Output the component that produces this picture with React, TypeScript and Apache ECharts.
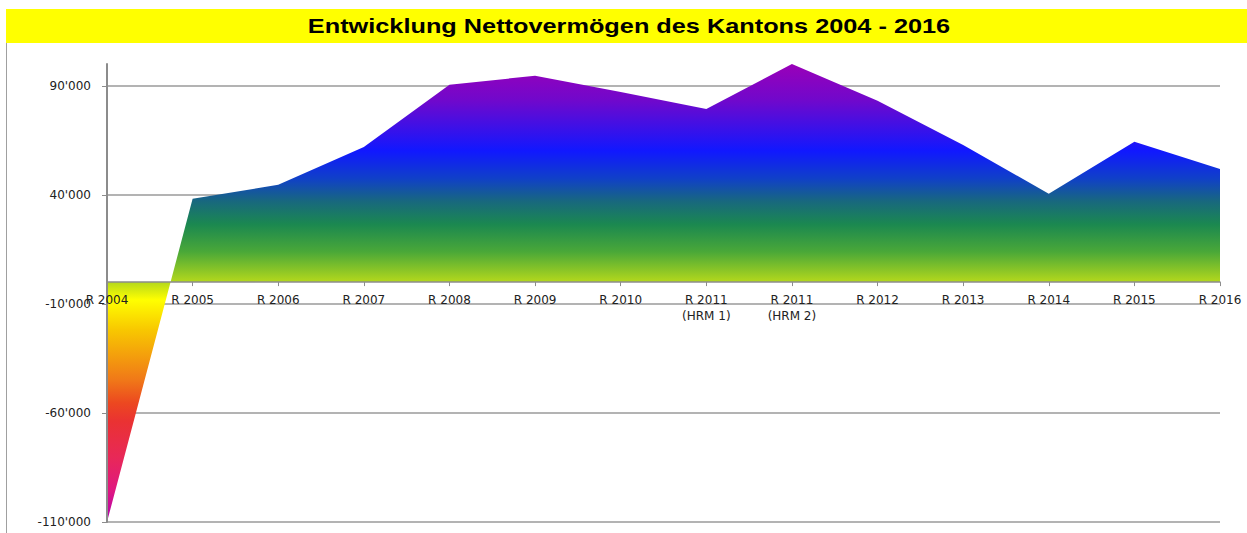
import React, { useEffect, useRef } from "react";
import * as echarts from "echarts";

const TITLE = "Entwicklung Nettovermögen des Kantons 2004 - 2016";
const categories = [
  "R 2004", "R 2005", "R 2006", "R 2007", "R 2008", "R 2009", "R 2010",
  "R 2011\n(HRM 1)", "R 2011\n(HRM 2)", "R 2012", "R 2013", "R 2014", "R 2015", "R 2016",
];
const nettovermoegen = [
  -110000, 38200, 44600, 62000, 90500, 94600, 87200,
  79400, 100000, 83100, 62900, 40500, 64300, 51900,
];
const yTicks = [-110000, -60000, -10000, 40000, 90000];
const Y_MIN = -110000;
const Y_MAX = 100000;

const fmt = (v: number) => {
  const s = Math.abs(Math.round(v)).toString().replace(/\B(?=(\d{3})+(?!\d))/g, "'");
  return (v < 0 ? "-" : "") + s;
};

export default function App() {
  const ref = useRef<HTMLDivElement>(null);
  useEffect(() => {
    if (!ref.current) return;
    const chart = echarts.init(ref.current, null, { renderer: "svg" });
    const gridTop = 64;
    const gridBottom = 11;
    const plotH = 533 - gridTop - gridBottom;
    const zeroOffset = -plotH * (0 - Y_MIN) / (Y_MAX - Y_MIN);
    const gradient = new echarts.graphic.LinearGradient(0, 0, 0, 1, [
      { offset: 0, color: "#9a00b8" },
      { offset: 0.08, color: "#7008cc" },
      { offset: 0.19, color: "#1018ff" },
      { offset: 0.25, color: "#1040c8" },
      { offset: 0.3, color: "#18687e" },
      { offset: 0.35, color: "#1b8850" },
      { offset: 0.41, color: "#4aa838" },
      { offset: 0.476, color: "#b4d81c" },
      { offset: 0.515, color: "#ffff00" },
      { offset: 0.58, color: "#f8c800" },
      { offset: 0.69, color: "#f07818" },
      { offset: 0.74, color: "#ec4820" },
      { offset: 0.78, color: "#ea3232" },
      { offset: 0.86, color: "#e82858" },
      { offset: 0.93, color: "#e01880" },
      { offset: 1, color: "#b000b0" },
    ]);
    chart.setOption({
      animation: false,
      backgroundColor: "#ffffff",
      textStyle: { fontFamily: "DejaVu Sans" },
      grid: {
        left: 107, right: 27, top: gridTop, bottom: gridBottom,
        containLabel: false, outerBoundsMode: "none",
      },
      graphic: [
        { type: "rect", shape: { x: 6, y: 9, width: 1241, height: 34 }, style: { fill: "#ffff00" }, silent: true },
        { type: "line", shape: { x1: 6.5, y1: 43, x2: 6.5, y2: 533 }, style: { stroke: "#a0a0a0", lineWidth: 1 }, silent: true },
        {
          type: "text",
          x: 629,
          y: 26,
          scaleX: 1.265,
          style: {
            text: TITLE,
            font: "bold 20px 'Liberation Sans', Arial, sans-serif",
            fill: "#000000",
            align: "center",
            verticalAlign: "middle",
          },
          silent: true,
        },
      ],
      xAxis: {
        type: "category",
        data: categories,
        boundaryGap: false,
        position: "bottom",
        offset: zeroOffset,
        z: 10,
        axisLine: { onZero: false, lineStyle: { color: "#8c8c8c", width: 1.5 } },
        axisTick: { show: true, length: 4, inside: false, lineStyle: { color: "#8c8c8c" } },
        axisLabel: {
          interval: 0,
          margin: 10,
          color: "#222222",
          fontSize: 12,
          lineHeight: 16,
          fontFamily: "DejaVu Sans",
        },
        splitLine: { show: false },
      },
      yAxis: {
        type: "value",
        min: Y_MIN,
        max: Y_MAX,
        interval: 50000,
        z: 10,
        axisLine: { show: true, lineStyle: { color: "#8c8c8c", width: 2 } },
        axisTick: { show: true, length: 5, customValues: yTicks, lineStyle: { color: "#8c8c8c" } },
        axisLabel: {
          customValues: yTicks,
          margin: 16,
          color: "#222222",
          fontSize: 12,
          fontFamily: "DejaVu Sans",
          formatter: (v: number) => fmt(v),
        },
        splitLine: { show: false },
      },
      series: [
        {
          type: "line",
          data: [],
          z: 1,
          silent: true,
          markLine: {
            silent: true,
            symbol: "none",
            z: 1,
            label: { show: false },
            lineStyle: { color: "#9a9a9a", width: 1.5, type: "solid" },
            data: yTicks.map((v) => ({ yAxis: v })),
          },
        },
        {
          type: "line",
          name: "Nettovermögen",
          data: nettovermoegen,
          z: 3,
          symbol: "none",
          lineStyle: { width: 0 },
          areaStyle: { color: gradient, opacity: 1 },
        },
      ],
    });
    return () => chart.dispose();
  }, []);
  return (
    <div
      ref={ref}
      style={{ position: "absolute", left: 0, top: 0, width: 1247, height: 533 }}
    />
  );
}
